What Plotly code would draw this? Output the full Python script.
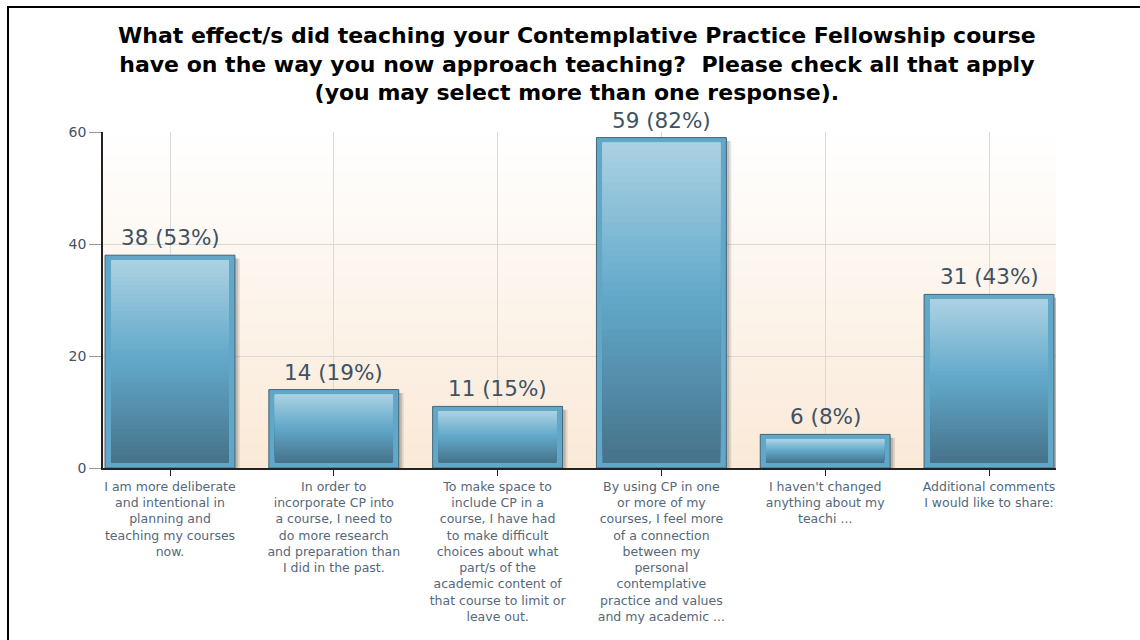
import plotly.graph_objects as go

# Survey responses
categories = [
    "I am more deliberate<br>and intentional in<br>planning and<br>teaching my courses<br>now.",
    "In order to<br>incorporate CP into<br>a course, I need to<br>do more research<br>and preparation than<br>I did in the past.",
    "To make space to<br>include CP in a<br>course, I have had<br>to make difficult<br>choices about what<br>part/s of the<br>academic content of<br>that course to limit or<br>leave out.",
    "By using CP in one<br>or more of my<br>courses, I feel more<br>of a connection<br>between my<br>personal<br>contemplative<br>practice and values<br>and my academic ...",
    "I haven't changed<br>anything about my<br>teachi ...",
    "Additional comments<br>I would like to share:",
]
counts = [38, 14, 11, 59, 6, 31]
percents = [53, 19, 15, 82, 8, 43]
y_ticks = [0, 20, 40, 60]

title_lines = [
    "What effect/s did teaching your Contemplative Practice Fellowship course",
    "have on the way you now approach teaching?  Please check all that apply",
    "(you may select more than one response).",
]

FONT = "DejaVu Sans"
BAR_W = 0.793          # outer bar width (category units)
INNER_W = 0.72         # inner gradient panel width
INSET_Y = 0.9          # vertical inset of the inner panel (y units)
N_SLICES = 48

# plot area in pixels (used for the title and frame placement)
PLOT_TOP, PLOT_BOTTOM = 132, 468
PLOT_LEFT, PLOT_RIGHT = 103, 1056


def paper_y(py):
    return (PLOT_BOTTOM - py) / (PLOT_BOTTOM - PLOT_TOP)


def paper_x(px):
    return (px - PLOT_LEFT) / (PLOT_RIGHT - PLOT_LEFT)


# gradient stops for the inner bar panel, t=0 at top, t=1 at bottom
bar_stops = [(0.0, (172, 210, 227)), (0.45, (102, 171, 203)),
             (0.55, (94, 162, 194)), (1.0, (70, 114, 138))]


def lerp_color(stops, t):
    for (t0, c0), (t1, c1) in zip(stops[:-1], stops[1:]):
        if t <= t1:
            f = 0 if t1 == t0 else (t - t0) / (t1 - t0)
            return "rgb({},{},{})".format(*[round(a + (b - a) * f) for a, b in zip(c0, c1)])
    return "rgb({},{},{})".format(*stops[-1][1])


fig = go.Figure()

# soft drop shadow to the right of each bar
for dx, alpha in [(0.03, 0.12), (0.018, 0.18)]:
    fig.add_trace(go.Bar(
        x=categories, y=[c - 0.6 for c in counts], width=BAR_W,
        offset=-BAR_W / 2 + dx,
        marker=dict(color=f"rgba(40,40,40,{alpha})", line=dict(width=0)),
        hoverinfo="skip", showlegend=False))

# outer bar frame
fig.add_trace(go.Bar(
    x=categories, y=counts, width=BAR_W,
    marker=dict(color="#62a7c7", line=dict(color="#3f6679", width=1)),
    hoverinfo="skip", showlegend=False))

# inner vertical gradient, painted bottom-up in overlapping slices
for k in range(N_SLICES):
    frac = k / N_SLICES
    bases = [INSET_Y + frac * (c - 2 * INSET_Y) for c in counts]
    heights = [(c - INSET_Y) - b for c, b in zip(counts, bases)]
    color = lerp_color(bar_stops, 1 - (k + 0.5) / N_SLICES)
    fig.add_trace(go.Bar(
        x=categories, y=heights, base=bases, width=INNER_W,
        marker=dict(color=color, line=dict(width=0)),
        hoverinfo="skip", showlegend=False))

# value labels above the bars
for cat, c, p in zip(categories, counts, percents):
    fig.add_annotation(
        x=cat, y=c, text=f"{c} ({p}%)", showarrow=False,
        yanchor="bottom", yshift=3,
        font=dict(family=FONT, size=21.5, color="#3e5262"))

# three-line title
fig.add_annotation(
    xref="paper", yref="paper",
    x=paper_x(577), y=paper_y(64),
    xanchor="center", yanchor="middle", showarrow=False,
    text="<br>".join(title_lines),
    font=dict(family=FONT, size=22, color="#000000", weight=700))

# plot-area background: white at the top fading to peach at the bottom
top_c, bot_c = (255, 255, 255), (250, 233, 215)
n_bg = 60
for i in range(n_bg):
    f = (i + 0.5) / n_bg
    col = "rgb({},{},{})".format(*[round(b + (t - b) * f) for t, b in zip(top_c, bot_c)])
    fig.add_shape(type="rect", xref="paper", yref="paper",
                  x0=0, x1=1, y0=i / n_bg, y1=(i + 1) / n_bg + 0.002,
                  fillcolor=col, line=dict(width=0), layer="below")

# outer frame around the chart
fig.add_shape(type="rect", xref="paper", yref="paper",
              x0=paper_x(8), x1=paper_x(1150), y0=paper_y(660), y1=paper_y(7),
              line=dict(color="#000000", width=2), fillcolor="rgba(0,0,0,0)",
              layer="above")

fig.update_layout(
    width=1140, height=640,
    barmode="overlay",
    paper_bgcolor="white",
    plot_bgcolor="rgba(0,0,0,0)",
    margin=dict(l=PLOT_LEFT, r=1140 - PLOT_RIGHT, t=PLOT_TOP, b=640 - PLOT_BOTTOM),
    xaxis=dict(
        type="category", range=[-0.409, 5.409],
        showgrid=True, gridcolor="#d9d9d9", gridwidth=1,
        showline=True, linecolor="#222222", linewidth=1.5,
        ticks="outside", ticklen=6, tickcolor="#222222",
        tickfont=dict(family=FONT, size=12.5, color="#55687a"),
        tickangle=0),
    yaxis=dict(
        range=[0, 60], tickvals=y_ticks,
        showgrid=True, gridcolor="#d9d9d9", gridwidth=1,
        showline=True, linecolor="#222222", linewidth=1.5,
        ticks="outside", ticklen=12, tickcolor="#999999",
        tickfont=dict(family=FONT, size=14, color="#3f5566"),
        zeroline=False),
)

fig.write_html("out.html")
